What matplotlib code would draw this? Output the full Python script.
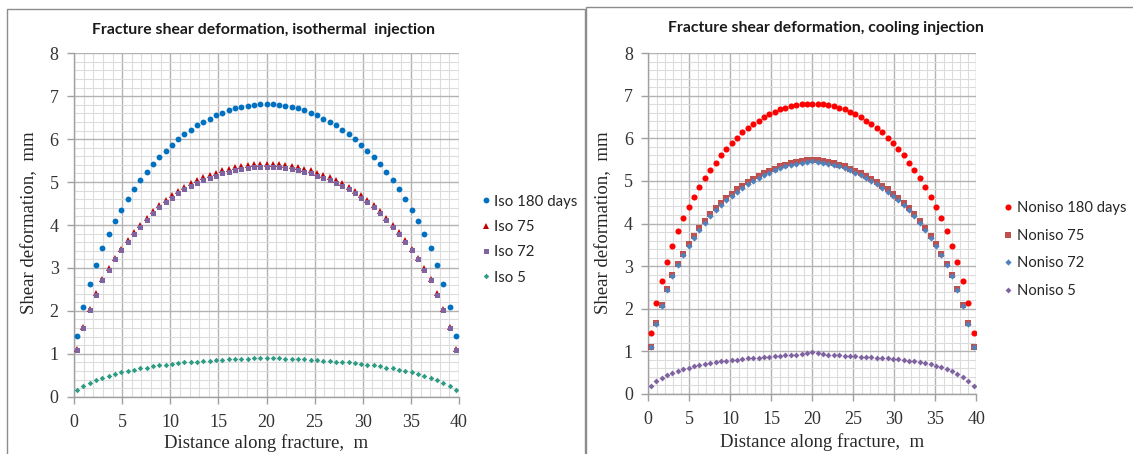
import matplotlib
matplotlib.use("Agg")
import matplotlib.pyplot as plt
from matplotlib.ticker import MultipleLocator
from matplotlib.patches import Rectangle
import numpy as np

# ---------------- data ----------------
# 61 element centres along the 40 m fracture
n_el = 61
fracture_length = 40.0
x_pos = [(i + 0.5) * fracture_length / n_el for i in range(n_el)]

# half profiles (x from 0.33 m up to 20 m, centre included)
iso180_half = [1.41, 2.10, 2.62, 3.07, 3.46, 3.80, 4.10, 4.36, 4.61, 4.84,
               5.05, 5.23, 5.41, 5.58, 5.73, 5.87, 6.00, 6.12, 6.22, 6.32,
               6.40, 6.48, 6.56, 6.62, 6.67, 6.72, 6.76, 6.78, 6.80, 6.82, 6.83]
iso75_half = [1.10, 1.63, 2.04, 2.41, 2.74, 3.00, 3.24, 3.45, 3.65, 3.83,
              4.00, 4.17, 4.33, 4.47, 4.59, 4.70, 4.80, 4.89, 4.97, 5.04,
              5.11, 5.17, 5.22, 5.27, 5.31, 5.34, 5.37, 5.39, 5.41, 5.42, 5.42]
iso72_half = [1.08, 1.60, 2.01, 2.38, 2.71, 2.96, 3.20, 3.41, 3.60, 3.78,
              3.95, 4.12, 4.28, 4.42, 4.54, 4.64, 4.74, 4.83, 4.91, 4.98,
              5.05, 5.10, 5.15, 5.20, 5.24, 5.27, 5.30, 5.32, 5.34, 5.35, 5.35]
iso5_half = [0.16, 0.25, 0.33, 0.39, 0.44, 0.49, 0.53, 0.57, 0.60, 0.63,
             0.66, 0.68, 0.71, 0.73, 0.75, 0.77, 0.78, 0.80, 0.81, 0.82,
             0.83, 0.84, 0.85, 0.86, 0.87, 0.87, 0.88, 0.88, 0.89, 0.89, 0.90]

noniso180_half = [1.42, 2.12, 2.64, 3.09, 3.48, 3.82, 4.12, 4.38, 4.63, 4.86,
                  5.07, 5.25, 5.43, 5.60, 5.75, 5.89, 6.02, 6.14, 6.24, 6.34,
                  6.42, 6.50, 6.57, 6.63, 6.68, 6.72, 6.76, 6.78, 6.80, 6.81, 6.82]
noniso75_half = [1.10, 1.66, 2.08, 2.46, 2.79, 3.05, 3.29, 3.51, 3.71, 3.89,
                 4.06, 4.22, 4.36, 4.48, 4.60, 4.70, 4.80, 4.89, 4.97, 5.05,
                 5.12, 5.18, 5.24, 5.29, 5.34, 5.38, 5.42, 5.45, 5.47, 5.49, 5.50]
noniso72_half = [1.09, 1.64, 2.06, 2.43, 2.76, 3.02, 3.26, 3.48, 3.67, 3.85,
                 4.02, 4.18, 4.32, 4.44, 4.55, 4.65, 4.75, 4.84, 4.92, 5.00,
                 5.07, 5.13, 5.19, 5.25, 5.30, 5.34, 5.38, 5.41, 5.43, 5.45, 5.46]
noniso5 = [0.18, 0.29, 0.37, 0.44, 0.49, 0.54, 0.58, 0.61, 0.64, 0.67,
           0.70, 0.72, 0.74, 0.76, 0.77, 0.79, 0.80, 0.82, 0.83, 0.84,
           0.85, 0.86, 0.87, 0.88, 0.89, 0.90, 0.91, 0.92, 0.93, 0.95,
           0.97,
           0.95, 0.93, 0.92, 0.91, 0.90, 0.89, 0.89, 0.88, 0.87, 0.86,
           0.86, 0.85, 0.84, 0.83, 0.82, 0.81, 0.80, 0.78, 0.76, 0.74,
           0.72, 0.69, 0.66, 0.62, 0.58, 0.53, 0.47, 0.40, 0.31, 0.18]


def full(half):
    # profile is symmetric about the fracture centre
    return half + half[-2::-1]


iso_series = [
    ("Iso 180 days", full(iso180_half), "o", "#0070C0", 4.2),
    ("Iso 75", full(iso75_half), "^", "#C00000", 4.6),
    ("Iso 72", full(iso72_half), "s", "#8064A2", 3.6),
    ("Iso 5", full(iso5_half), "D", "#2E9C84", 2.8),
]
noniso_series = [
    ("Noniso 180 days", full(noniso180_half), "o", "#FF0000", 4.4),
    ("Noniso 75", full(noniso75_half), "s", "#C0504D", 3.8),
    ("Noniso 72", full(noniso72_half), "D", "#4F81BD", 3.2),
    ("Noniso 5", noniso5, "D", "#8064A2", 3.0),
]

titles = ["Fracture shear deformation, isothermal  injection",
          "Fracture shear deformation, cooling injection"]
xlabel = "Distance along fracture,  m"
ylabel = "Shear deformation,  mm"

# ---------------- layout ----------------
W, H = 1133, 454
fig = plt.figure(figsize=(W / 100, H / 100), dpi=100)
fig.patch.set_facecolor("white")


def fx(px):
    return px / W


def fy(py):
    return 1 - py / H


# panel borders
fig.patches.append(Rectangle((fx(7), fy(460)), fx(585) - fx(7), fy(9) - fy(460),
                             transform=fig.transFigure, fill=False,
                             edgecolor="#8C8C8C", linewidth=1.0))
fig.patches.append(Rectangle((fx(586), fy(460)), fx(1140) - fx(586), fy(7) - fy(460),
                             transform=fig.transFigure, fill=False,
                             edgecolor="#8C8C8C", linewidth=1.0))

serif = ["Liberation Serif", "DejaVu Serif"]
sans = ["Lato", "DejaVu Sans"]

panels = [
    dict(box=(74, 53.3, 459, 396.7), series=iso_series, title=titles[0],
         title_xy=(263, 30), xl_xy=(266, 443), yl_xy=(30, 223),
         leg_x=486, leg_y=[201.7, 227.3, 252.3, 277.7], leg_fs=10.8),
    dict(box=(648.3, 53.3, 976.3, 393.7), series=noniso_series, title=titles[1],
         title_xy=(826, 28), xl_xy=(822, 442), yl_xy=(604, 223),
         leg_x=1009, leg_y=[208, 236, 263, 291], leg_fs=10.6),
]

for p in panels:
    x0, y0, x1, y1 = p["box"]
    ax = fig.add_axes([fx(x0), fy(y1), fx(x1) - fx(x0), fy(y0) - fy(y1)])
    handles = []
    for name, vals, mk, col, ms in p["series"]:
        h, = ax.plot(x_pos, vals, linestyle="none", marker=mk, color=col,
                     markersize=ms, markeredgewidth=0, label=name, zorder=3)
        handles.append(h)
    ax.set_xlim(0, 40)
    ax.set_ylim(0, 8)
    ax.xaxis.set_major_locator(MultipleLocator(5))
    ax.xaxis.set_minor_locator(MultipleLocator(1))
    ax.yaxis.set_major_locator(MultipleLocator(1))
    ax.yaxis.set_minor_locator(MultipleLocator(0.2))
    ax.grid(which="major", color="#B3B3B3", linewidth=1.0, zorder=1)
    ax.grid(which="minor", color="#DCDCDC", linewidth=0.8, zorder=0)
    ax.set_axisbelow(True)
    for s in ["top", "right"]:
        ax.spines[s].set_visible(False)
    for s in ["left", "bottom"]:
        ax.spines[s].set_color("#A0A0A0")
        ax.spines[s].set_linewidth(1.0)
    ax.tick_params(which="major", length=5, width=1.0, color="#A0A0A0",
                   labelsize=13, pad=6)
    ax.tick_params(axis="x", which="major", pad=7.5)
    ax.tick_params(which="minor", length=0)
    for lab in ax.get_xticklabels() + ax.get_yticklabels():
        lab.set_family(serif)
        lab.set_color("#333333")

    fig.text(fx(p["title_xy"][0]), fy(p["title_xy"][1]), p["title"],
             ha="center", va="center", fontsize=11.3, fontweight="bold",
             family=sans, color="#1A1A1A")
    fig.text(fx(p["xl_xy"][0]), fy(p["xl_xy"][1]), xlabel, ha="center",
             va="center", fontsize=13.5, family=serif, color="#262626")
    fig.text(fx(p["yl_xy"][0]), fy(p["yl_xy"][1]), ylabel, ha="center",
             va="center", rotation=90, fontsize=13.5, family=serif,
             color="#262626")

    # legend: one frameless single-entry legend per row for exact placement
    for h, ly in zip(handles, p["leg_y"]):
        leg = fig.legend([h], [h.get_label()], loc="center left",
                         bbox_to_anchor=(fx(p["leg_x"] - 5), fy(ly)),
                         frameon=False, handlelength=0.6, handletextpad=0.3,
                         borderpad=0, borderaxespad=0,
                         prop={"family": sans, "size": p["leg_fs"]})
        for t in leg.get_texts():
            t.set_color("#262626")

fig.savefig("out.png", dpi=100, facecolor="white")
